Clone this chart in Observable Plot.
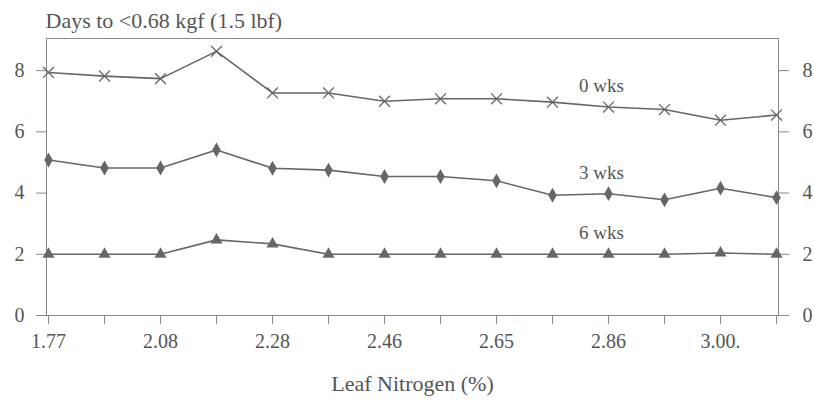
<!DOCTYPE html>
<html>
<head>
<meta charset="utf-8">
<script src="https://cdn.jsdelivr.net/npm/d3@7"></script>
<script src="https://cdn.jsdelivr.net/npm/@observablehq/plot@0.6"></script>
<style>
  html, body { margin: 0; padding: 0; background: #fff; }
</style>
</head>
<body>
<div id="chart"></div>
<script>
const xLabels = ["1.77", "", "2.08", "", "2.28", "", "2.46", "", "2.65", "", "2.86", "", "3.00.", ""];
const wk0 = [7.94, 7.82, 7.74, 8.63, 7.27, 7.27, 7.00, 7.08, 7.08, 6.97, 6.81, 6.73, 6.38, 6.55];
const wk3 = [5.08, 4.82, 4.82, 5.41, 4.81, 4.75, 4.54, 4.54, 4.40, 3.93, 3.98, 3.78, 4.16, 3.85];
const wk6 = [2.00, 2.00, 2.00, 2.47, 2.34, 2.00, 2.00, 2.00, 2.00, 2.00, 2.00, 2.00, 2.04, 2.00];
const seriesNames = ["0 wks", "3 wks", "6 wks"];
const seriesSymbols = ["times", "diamond", "triangle"];
const yTicks = [0, 2, 4, 6, 8];
const title = "Days to <0.68 kgf (1.5 lbf)";
const xTitle = "Leaf Nitrogen (%)";
const labelIndex = 10;

const series = [wk0, wk3, wk6];
const rows = [];
series.forEach((vals, s) => vals.forEach((v, i) => rows.push({s: seriesNames[s], i, v, sym: seriesSymbols[s]})));
const labelRows = series.map((vals, s) => ({s: seriesNames[s], i: labelIndex, v: vals[labelIndex]}));

const ink = "#666";
const textInk = "#555";

const plot = Plot.plot({
  width: 814,
  height: 403,
  marginLeft: 46,
  marginRight: 36,
  marginTop: 38,
  marginBottom: 88,
  style: {fontFamily: "'Liberation Serif', 'DejaVu Serif', serif", fontSize: "20px", color: textInk, background: "#fff"},
  x: {type: "point", domain: d3.range(xLabels.length), padding: 0},
  y: {domain: [0, 9.05]},
  symbol: {domain: seriesSymbols, range: seriesSymbols},
  marks: [
    Plot.frame({stroke: "#888", strokeWidth: 1}),
    Plot.axisY({anchor: "left", ticks: yTicks, tickSize: 10, tickPadding: 12, label: null, stroke: "#888", fill: textInk, fontSize: 20}),
    Plot.axisY({anchor: "right", ticks: yTicks, tickSize: 10, tickPadding: 14, label: null, stroke: "#888", fill: textInk, fontSize: 20}),
    Plot.axisX({anchor: "bottom", ticks: d3.range(xLabels.length), tickFormat: i => xLabels[i], tickSize: 9, tickPadding: 9, label: null, stroke: "#888", fill: textInk, fontSize: 20}),
    Plot.line(rows, {x: "i", y: "v", z: "s", stroke: ink, strokeWidth: 1.6}),
    Plot.dot(rows.filter(d => d.sym === "times"), {x: "i", y: "v", symbol: d => d.sym, stroke: ink, strokeWidth: 1.3, r: 5}),
    Plot.dot(rows.filter(d => d.sym !== "times"), {x: "i", y: "v", symbol: d => d.sym, fill: ink, stroke: "none", r: 4.5}),
    Plot.text(labelRows, {x: "i", y: "v", text: "s", dx: -7, dy: -21, fill: textInk, fontSize: 19}),
    Plot.text([title], {frameAnchor: "top-left", textAnchor: "start", lineAnchor: "bottom", dx: -1, dy: -11, fill: textInk, fontSize: 22}),
    Plot.text([xTitle], {frameAnchor: "bottom", lineAnchor: "bottom", dy: 75, fill: textInk, fontSize: 22})
  ]
});
document.getElementById("chart").appendChild(plot);
</script>
</body>
</html>
